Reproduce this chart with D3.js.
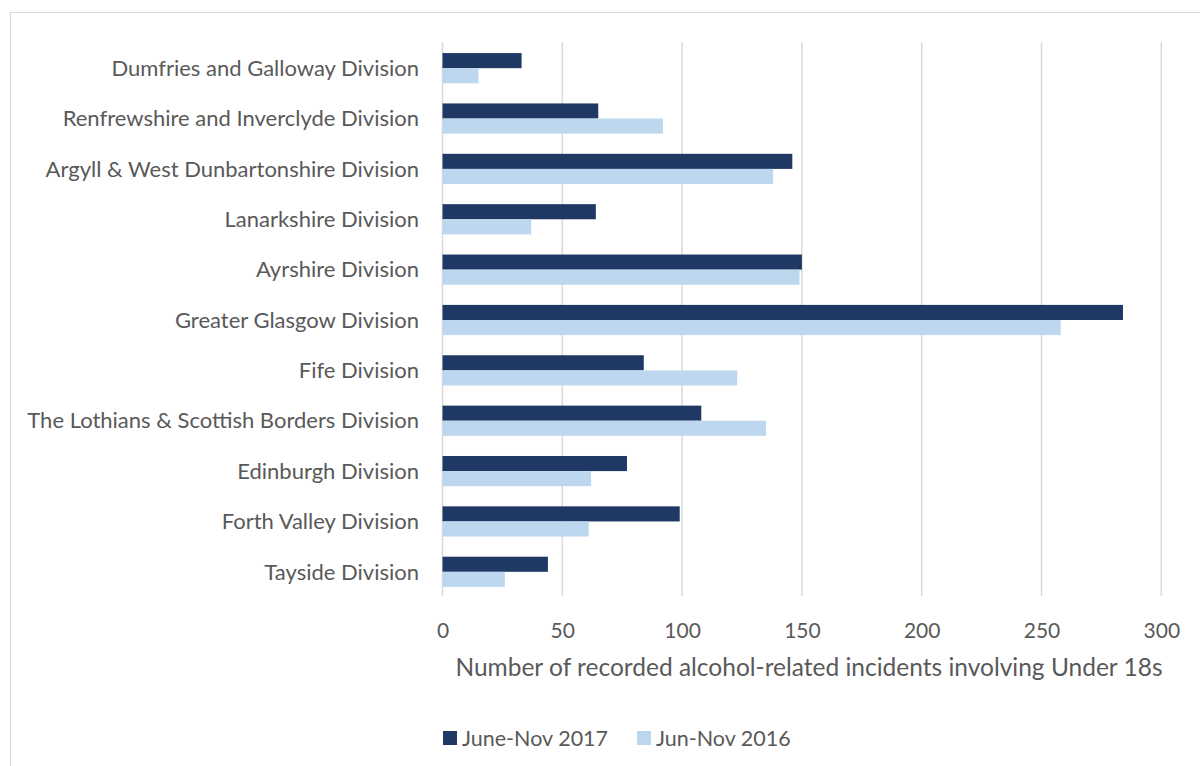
<!DOCTYPE html>
<html>
<head>
<meta charset="utf-8">
<script src="https://cdn.jsdelivr.net/npm/d3@7"></script>
<style>
  html, body { margin: 0; padding: 0; background: #fff; }
  svg { display: block; font-family: Lato, "Open Sans", sans-serif; }
</style>
</head>
<body>
<svg id="chart" width="1200" height="766"></svg>
<script>
// Police Scotland divisions, top to bottom
const divisions = [
  "Dumfries and Galloway Division",
  "Renfrewshire and Inverclyde Division",
  "Argyll & West Dunbartonshire Division",
  "Lanarkshire Division",
  "Ayrshire Division",
  "Greater Glasgow Division",
  "Fife Division",
  "The Lothians & Scottish Borders Division",
  "Edinburgh Division",
  "Forth Valley Division",
  "Tayside Division"
];
const values2017 = [33, 65, 146, 64, 150, 284, 84, 108, 77, 99, 44];
const values2016 = [15, 92, 138, 37, 149, 258, 123, 135, 62, 61, 26];
const seriesNames = ["June-Nov 2017", "Jun-Nov 2016"];
const xTicks = [0, 50, 100, 150, 200, 250, 300];
const axisTitle = "Number of recorded alcohol-related incidents involving Under 18s";

const colors = ["#203864", "#bdd7ee"];
const textColor = "#595959";

const svg = d3.select("#chart");
const W = 1200, H = 766;
const plot = { left: 442.5, right: 1161.3, top: 42, bottom: 596 };

// outer chart frame
svg.append("rect")
  .attr("x", 10.5).attr("y", 12.5)
  .attr("width", W + 10).attr("height", H + 10)
  .attr("fill", "none").attr("stroke", "#d9d9d9").attr("stroke-width", 1);

const x = d3.scaleLinear().domain([0, 300]).range([plot.left, plot.right]);
const y = d3.scaleBand().domain(divisions).range([plot.top, plot.bottom]).paddingInner(0.4).paddingOuter(0.2);
const sub = d3.scaleBand().domain(seriesNames).range([0, y.bandwidth()]);

// vertical gridlines
svg.append("g").selectAll("line").data(xTicks).join("line")
  .attr("x1", d => x(d)).attr("x2", d => x(d))
  .attr("y1", plot.top).attr("y2", plot.bottom)
  .attr("stroke", "#d9d9d9").attr("stroke-width", 1.5);

// bars
const rows = divisions.map((d, i) => ({ name: d, vals: [values2017[i], values2016[i]] }));
const groups = svg.append("g").selectAll("g").data(rows).join("g")
  .attr("transform", d => `translate(0,${y(d.name) + 1})`);
groups.selectAll("rect").data(d => d.vals.map((v, k) => ({ v, k }))).join("rect")
  .attr("x", x(0))
  .attr("y", d => sub(seriesNames[d.k]))
  .attr("width", d => x(d.v) - x(0))
  .attr("height", sub.bandwidth())
  .attr("fill", d => colors[d.k]);

// category labels
svg.append("g").selectAll("text").data(divisions).join("text")
  .attr("x", 419)
  .attr("y", d => y(d) + y.bandwidth() / 2 + 1)
  .attr("dy", "0.35em")
  .attr("text-anchor", "end")
  .attr("font-size", 22)
  .attr("fill", textColor)
  .text(d => d);

// x tick labels
const xAxis = d3.axisBottom(x).tickValues(xTicks).tickSize(0).tickPadding(0);
const gx = svg.append("g").attr("transform", `translate(0,${plot.bottom})`).call(xAxis);
gx.select(".domain").remove();
gx.selectAll("text")
  .attr("y", 42).attr("dy", 0)
  .attr("font-size", 21)
  .attr("font-family", "Lato, 'Open Sans', sans-serif")
  .attr("fill", textColor);

// axis title
svg.append("text")
  .attr("x", 809)
  .attr("y", 676)
  .attr("text-anchor", "middle")
  .attr("font-size", 24.5)
  .attr("fill", textColor)
  .text(axisTitle);

// legend
const legendX = [443, 637];
const legend = svg.append("g").selectAll("g").data(seriesNames).join("g")
  .attr("transform", (d, i) => `translate(${legendX[i]},731)`);
legend.append("rect").attr("width", 14).attr("height", 14).attr("fill", (d, i) => colors[i]);
legend.append("text")
  .attr("x", 19).attr("y", 15)
  .attr("font-size", 21.5)
  .attr("fill", textColor)
  .text(d => d);
</script>
</body>
</html>
